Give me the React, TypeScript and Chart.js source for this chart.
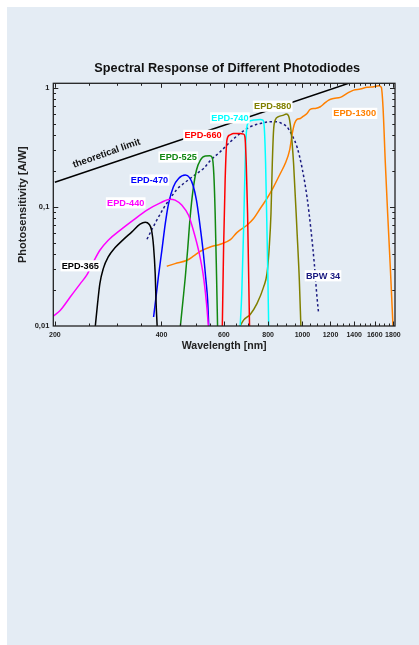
import React, { useEffect, useRef } from 'react';
import { Chart, registerables } from 'chart.js';

Chart.register(...registerables);

const FONT = "'Liberation Sans', Arial, Helvetica, sans-serif";

// ---- data (wavelength in nm, photosensitivity in A/W) ----
const THEORY_WL = [200, 1800];
const THEORY_R = [0.161, 1.452];

const EPD365_WL = [260, 264, 268, 274, 283, 296, 312, 330, 348, 360, 369, 375, 380, 384, 386, 389];
const EPD365_R = [0.0098, 0.0154, 0.0227, 0.0303, 0.038, 0.0455, 0.0531, 0.0617, 0.0715, 0.0743, 0.0715, 0.0637, 0.0461, 0.0275, 0.0164, 0.0098];

const EPD440_WL = [198, 207, 221, 236, 246, 257, 268, 283, 306, 333, 364, 397, 423, 437, 457, 477, 492, 509, 524, 535, 543];
const EPD440_R = [0.0121, 0.0135, 0.0175, 0.0227, 0.0267, 0.0345, 0.0432, 0.0525, 0.0637, 0.0773, 0.0938, 0.108, 0.116, 0.114, 0.103, 0.085, 0.0637, 0.0432, 0.0275, 0.0164, 0.0098];

const EPD470_WL = [380, 386, 392, 401, 410, 419, 432, 447, 467, 480, 491, 502, 513, 524, 533, 540, 544];
const EPD470_R = [0.0119, 0.0175, 0.0258, 0.0432, 0.0724, 0.107, 0.147, 0.173, 0.185, 0.176, 0.152, 0.114, 0.0724, 0.0432, 0.0258, 0.0164, 0.0098];

const EPD525_WL = [452, 460, 467, 474, 482, 491, 502, 515, 532, 547, 556, 562, 567, 572, 576];
const EPD525_R = [0.0098, 0.0164, 0.0258, 0.0432, 0.0824, 0.138, 0.203, 0.247, 0.267, 0.268, 0.26, 0.19, 0.088, 0.0275, 0.0098];

const EPD660_WL = [594, 599, 605, 612, 623, 639, 667, 682, 688, 694, 700, 704, 709];
const EPD660_R = [0.0098, 0.0461, 0.1675, 0.363, 0.4, 0.413, 0.413, 0.408, 0.387, 0.231, 0.0879, 0.0334, 0.0098];

const EPD740_WL = [667, 674, 682, 691, 697, 704, 712, 728, 760, 773, 780, 787, 794, 799, 803];
const EPD740_R = [0.0098, 0.0187, 0.0637, 0.319, 0.47, 0.508, 0.528, 0.535, 0.542, 0.535, 0.47, 0.231, 0.0637, 0.0242, 0.0098];

const EPD880_WL = [664, 682, 712, 744, 777, 794, 806, 815, 822, 829, 838, 856, 885, 900, 914, 928, 944, 965, 980, 990];
const EPD880_R = [0.0098, 0.0112, 0.0125, 0.0154, 0.0213, 0.0275, 0.0461, 0.0879, 0.231, 0.441, 0.535, 0.571, 0.589, 0.601, 0.578, 0.441, 0.231, 0.0637, 0.0242, 0.0098];

const EPD1300_WL = [414, 437, 472, 492, 515, 549, 586, 626, 653, 697, 728, 760, 794, 829, 866, 894, 920, 936, 950, 965, 986, 1007, 1030, 1052, 1087, 1123, 1153, 1186, 1225, 1279, 1336, 1395, 1456, 1521, 1589, 1641, 1670, 1688, 1714, 1740, 1770, 1802];
const EPD1300_R = [0.0317, 0.0334, 0.0356, 0.0385, 0.0424, 0.0461, 0.0486, 0.053, 0.0608, 0.0701, 0.0798, 0.0968, 0.1175, 0.1472, 0.1906, 0.231, 0.299, 0.413, 0.5, 0.542, 0.552, 0.578, 0.608, 0.658, 0.67, 0.692, 0.738, 0.787, 0.813, 0.829, 0.896, 0.955, 0.975, 1.007, 1.019, 1.04, 1.007, 0.692, 0.231, 0.0879, 0.0313, 0.0098];

const BPW34_WL = [364, 377, 388, 405, 423, 442, 462, 482, 504, 526, 549, 586, 626, 667, 712, 760, 811, 847, 875, 904, 934, 965, 996, 1030, 1057, 1080, 1099, 1111];
const BPW34_R = [0.0535, 0.0658, 0.0773, 0.0968, 0.1175, 0.14, 0.157, 0.173, 0.191, 0.21, 0.244, 0.29, 0.352, 0.413, 0.47, 0.5, 0.518, 0.518, 0.5, 0.47, 0.4, 0.319, 0.217, 0.121, 0.0637, 0.0334, 0.0175, 0.0127];

// ---- axes ----
const X_MAJOR = [200, 400, 600, 800, 1000, 1200, 1400, 1600, 1800];
const X_MINOR = [250, 300, 350, 450, 500, 550, 650, 700, 750, 850, 900, 950, 1050, 1100, 1150, 1250, 1300, 1350, 1450, 1500, 1550, 1650, 1700, 1750];
const Y_MAJOR = [0.01, 0.1, 1];
const Y_MAJOR_LABELS = ['0,01', '0,1', '1'];
const Y_MINOR = [0.02, 0.03, 0.04, 0.05, 0.06, 0.07, 0.08, 0.09, 0.2, 0.3, 0.4, 0.5, 0.6, 0.7, 0.8, 0.9];

// ---- annotations ----
const SERIES_LABELS = ['EPD-365', 'EPD-440', 'EPD-470', 'EPD-525', 'EPD-660', 'EPD-740', 'EPD-880', 'EPD-1300', 'BPW 34'];
const LABEL_WL = [236, 317, 370, 446, 524, 624, 824, 1404, 1143];
const LABEL_R = [0.032, 0.108, 0.168, 0.262, 0.398, 0.558, 0.699, 0.609, 0.0264];
const LABEL_COLORS = ['#000000', '#ff00ff', '#0000ff', '#118811', '#ff0000', '#00ffff', '#808000', '#ff8000', '#1a1a80'];
const THEORY_LABEL = 'theoretical limit';
const THEORY_LABEL_POS = [280, 0.281];

const TITLE = 'Spectral Response of Different Photodiodes';

const pts = (wl: number[], r: number[]) => wl.map((w, i) => ({ x: w, y: r[i] }));

const decorPlugin = {
  id: 'decor',
  afterDatasetsDraw(chart: any) {
    const { ctx, chartArea: a, scales } = chart;
    const x = scales.x;
    const y = scales.y;
    ctx.save();
    // frame
    ctx.strokeStyle = '#222';
    ctx.lineWidth = 1.3;
    ctx.strokeRect(a.left, a.top, a.right - a.left, a.bottom - a.top);
    ctx.lineWidth = 1;
    const seg = (x1: number, y1: number, x2: number, y2: number) => {
      ctx.beginPath();
      ctx.moveTo(x1, y1);
      ctx.lineTo(x2, y2);
      ctx.stroke();
    };
    // x ticks (inside, bottom and top)
    const xt = [...X_MAJOR.map((v) => [v, 4.5]), ...X_MINOR.map((v) => [v, 2.5])];
    xt.forEach(([v, len]) => {
      const px = Math.round(x.getPixelForValue(v)) + 0.5;
      if (px < a.left || px > a.right) return;
      seg(px, a.bottom, px, a.bottom - len);
      seg(px, a.top, px, a.top + len);
    });
    const yt = [...Y_MAJOR.map((v) => [v, 5]), ...Y_MINOR.map((v) => [v, 2.7])];
    yt.forEach(([v, len]) => {
      const py = Math.round(y.getPixelForValue(v)) + 0.5;
      if (py < a.top || py > a.bottom) return;
      seg(a.left, py, a.left + len, py);
      seg(a.right, py, a.right - len, py);
    });

    // series labels with white boxes
    ctx.textAlign = 'center';
    ctx.textBaseline = 'middle';
    SERIES_LABELS.forEach((t, i) => {
      const px = x.getPixelForValue(LABEL_WL[i]);
      const py = y.getPixelForValue(LABEL_R[i]);
      ctx.font = `bold ${i === 7 ? 9.3 : 9.2}px ${FONT}`;
      const w = ctx.measureText(t).width;
      ctx.fillStyle = '#ffffff';
      ctx.fillRect(px - w / 2 - 1.2, py - 5.6, w + 2.4, 11.2);
      ctx.fillStyle = LABEL_COLORS[i];
      ctx.fillText(t, px, py + 0.5);
    });

    // theoretical limit label
    const tx = x.getPixelForValue(THEORY_LABEL_POS[0]);
    const ty = y.getPixelForValue(THEORY_LABEL_POS[1]);
    ctx.save();
    ctx.translate(tx, ty);
    ctx.rotate((-19.5 * Math.PI) / 180);
    ctx.font = `bold 9.6px ${FONT}`;
    ctx.fillStyle = '#111';
    ctx.fillText(THEORY_LABEL, 0, 0);
    ctx.restore();

    // chart title
    ctx.font = `bold 12.7px ${FONT}`;
    ctx.fillStyle = '#111';
    ctx.textAlign = 'center';
    ctx.textBaseline = 'middle';
    ctx.fillText(TITLE, (a.left + a.right) / 2 + 3.1, a.top - 14.6);
    ctx.restore();
  },
};

export default function App() {
  const ref = useRef<HTMLCanvasElement | null>(null);

  useEffect(() => {
    if (!ref.current) return;
    const line = (label: string, wl: number[], r: number[], color: string, extra: any = {}) => ({
      label,
      data: pts(wl, r),
      borderColor: color,
      backgroundColor: color,
      borderWidth: 1.5,
      pointRadius: 0,
      fill: false,
      cubicInterpolationMode: 'monotone',
      ...extra,
    });
    const chart = new Chart(ref.current, {
      type: 'line',
      data: {
        datasets: [
          line('theoretical limit', THEORY_WL, THEORY_R, '#000000', { cubicInterpolationMode: 'default', tension: 0 }),
          line('EPD-365', EPD365_WL, EPD365_R, '#000000'),
          line('EPD-440', EPD440_WL, EPD440_R, '#ff00ff'),
          line('EPD-470', EPD470_WL, EPD470_R, '#0000ff'),
          line('EPD-525', EPD525_WL, EPD525_R, '#118811'),
          line('EPD-660', EPD660_WL, EPD660_R, '#ff0000'),
          line('EPD-740', EPD740_WL, EPD740_R, '#00ffff'),
          line('EPD-880', EPD880_WL, EPD880_R, '#808000'),
          line('EPD-1300', EPD1300_WL, EPD1300_R, '#ff8000'),
          line('BPW 34', BPW34_WL, BPW34_R, '#1a1a80', { borderDash: [2.5, 2.5] }),
        ] as any,
      },
      options: {
        animation: false,
        responsive: false,
        events: [],
        layout: { padding: { left: 10, top: 83.3, right: 24, bottom: 28 } },
        plugins: {
          legend: { display: false },
          tooltip: { enabled: false },
          title: { display: false },
        },
        scales: {
          x: {
            type: 'logarithmic',
            min: 198,
            max: 1825,
            afterBuildTicks: (s: any) => {
              s.ticks = X_MAJOR.map((v) => ({ value: v }));
            },
            afterFit: (s: any) => {
              s.height = 26;
            },
            ticks: {
              autoSkip: false,
              maxRotation: 0,
              minRotation: 0,
              padding: 4.4,
              color: '#222',
              font: { family: FONT, size: 7, weight: 'bold' },
              callback: (v: any) => String(v),
            },
            grid: { display: false, drawTicks: false },
            border: { display: false },
            title: {
              display: true,
              text: 'Wavelength [nm]',
              color: '#222',
              font: { family: FONT, size: 10.6, weight: 'bold' },
              padding: 0,
            },
          },
          y: {
            type: 'logarithmic',
            min: 0.01,
            max: 1.089,
            afterBuildTicks: (s: any) => {
              s.ticks = Y_MAJOR.map((v) => ({ value: v }));
            },
            afterFit: (s: any) => {
              s.width = 43.3;
            },
            ticks: {
              autoSkip: false,
              padding: 4,
              color: '#222',
              font: { family: FONT, size: 7.5, weight: 'bold' },
              callback: (v: any) => {
                const i = Y_MAJOR.indexOf(v);
                return i >= 0 ? Y_MAJOR_LABELS[i] : '';
              },
            },
            grid: { display: false, drawTicks: false },
            border: { display: false },
            title: {
              display: true,
              text: 'Photosensitivity [A/W]',
              color: '#222',
              font: { family: FONT, size: 11, weight: 'bold' },
              padding: { top: 6.7, bottom: 0 },
            },
          },
        },
      } as any,
      plugins: [decorPlugin],
    });
    return () => chart.destroy();
  }, []);

  return (
    <>
      <div
        style={{
          position: 'absolute',
          left: 7,
          top: 7,
          width: 412,
          height: 638,
          background: '#e4ecf4',
        }}
      />
      <div style={{ position: 'absolute', left: 0, top: 0, width: 419, height: 380 }}>
        <canvas ref={ref} width={419} height={380} style={{ display: 'block' }} />
      </div>
    </>
  );
}
